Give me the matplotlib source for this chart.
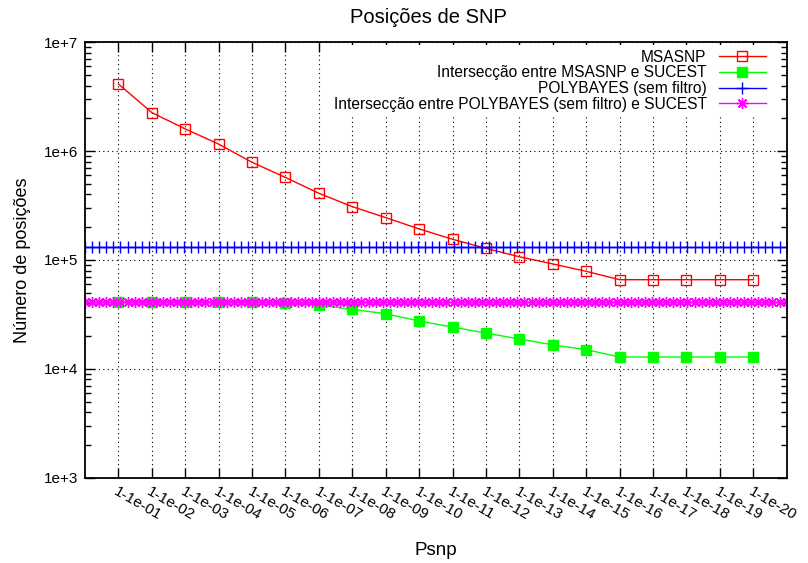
import numpy as np
import matplotlib
matplotlib.use("Agg")
import matplotlib.pyplot as plt
from matplotlib.ticker import FixedLocator, LogLocator, NullFormatter

plt.rcParams['font.family'] = ['Liberation Sans', 'DejaVu Sans']

# psnp steps 1..20  (labels 1-1e-01 .. 1-1e-20)
steps = list(range(1, 21))
tick_labels = ["1-1e-%02d" % i for i in steps]

msasnp = [4.14e6, 2.26e6, 1.60e6, 1.16e6, 7.9e5, 5.73e5, 4.10e5, 3.09e5, 2.45e5, 1.93e5,
          1.55e5, 1.28e5, 1.07e5, 9.2e4, 7.87e4, 6.59e4, 6.59e4, 6.59e4, 6.59e4, 6.59e4]
inter_msasnp = [41400, 41400, 41400, 41400, 41400, 40300, 38600, 35200, 32100, 27500,
                24200, 21300, 18800, 16600, 15000, 12850, 12850, 12850, 12850, 12850]
polybayes = 1.33e5          # constant (no filter)
inter_polybayes = 41400     # constant

labels = ["MSASNP",
          "Intersecção entre MSASNP e SUCEST",
          "POLYBAYES (sem filtro)",
          "Intersecção entre POLYBAYES (sem filtro) e SUCEST"]

fs = 11
fig = plt.figure(figsize=(8.08, 5.63), dpi=100)
ax = fig.add_axes([0.1052, 0.1515, 0.8684, 0.7734])

# gnuplot style sampling of the constant functions (100 samples)
fx = np.linspace(0, 21, 100)

ax.plot(steps, msasnp, color='#ff0000', lw=1, marker='s', ms=7, mfc='none',
        mec='#ff0000', mew=1, label=labels[0])
ax.plot(steps, inter_msasnp, color='#00ff00', lw=1, marker='s', ms=7,
        mfc='#00ff00', mec='#00ff00', label=labels[1])
ax.plot(fx, np.full_like(fx, polybayes), color='#0000ff', lw=1, marker='+', ms=8,
        mew=1, label=labels[2])
ax.plot(fx, np.full_like(fx, inter_polybayes), color='#ff00ff', lw=1, marker=(8, 2, 0),
        ms=8, mew=1, label=labels[3])

ax.set_yscale('log')
ax.set_xlim(0, 21)
ax.set_ylim(1e3, 1e7)

ax.xaxis.set_major_locator(FixedLocator(steps))
ax.set_xticklabels(tick_labels, rotation=-30, ha='left', va='top',
                   rotation_mode='anchor', fontsize=fs)
ax.yaxis.set_major_locator(FixedLocator([1e3, 1e4, 1e5, 1e6, 1e7]))
ax.set_yticklabels(["1e+3", "1e+4", "1e+5", "1e+6", "1e+7"], fontsize=fs)
ax.yaxis.set_minor_locator(LogLocator(base=10, subs=np.arange(2, 10), numticks=20))
ax.yaxis.set_minor_formatter(NullFormatter())

ax.tick_params(axis='both', which='major', direction='in', length=7, width=1,
               top=True, right=True, pad=5)
ax.tick_params(axis='y', which='minor', direction='in', length=4, width=1, right=True)
ax.tick_params(axis='x', which='minor', bottom=False, top=False)
for s in ax.spines.values():
    s.set_linewidth(1.3)

ax.grid(True, which='major', color='black', linestyle=(0, (1, 3)), lw=0.8)

ax.set_title("Posições de SNP", fontsize=14.5, pad=14, x=0.49)
ax.set_xlabel("Psnp", fontsize=13.5, labelpad=14)
ax.set_ylabel("Número de posições", fontsize=13, labelpad=9)

leg = ax.legend(loc='upper right', bbox_to_anchor=(0.988, 1.012), markerfirst=False,
                fontsize=11.2, frameon=True, framealpha=1, edgecolor='none',
                fancybox=False, handlelength=3, handletextpad=0.8,
                labelspacing=0.05, borderpad=0.3)

fig.savefig("out.png", dpi=100)
